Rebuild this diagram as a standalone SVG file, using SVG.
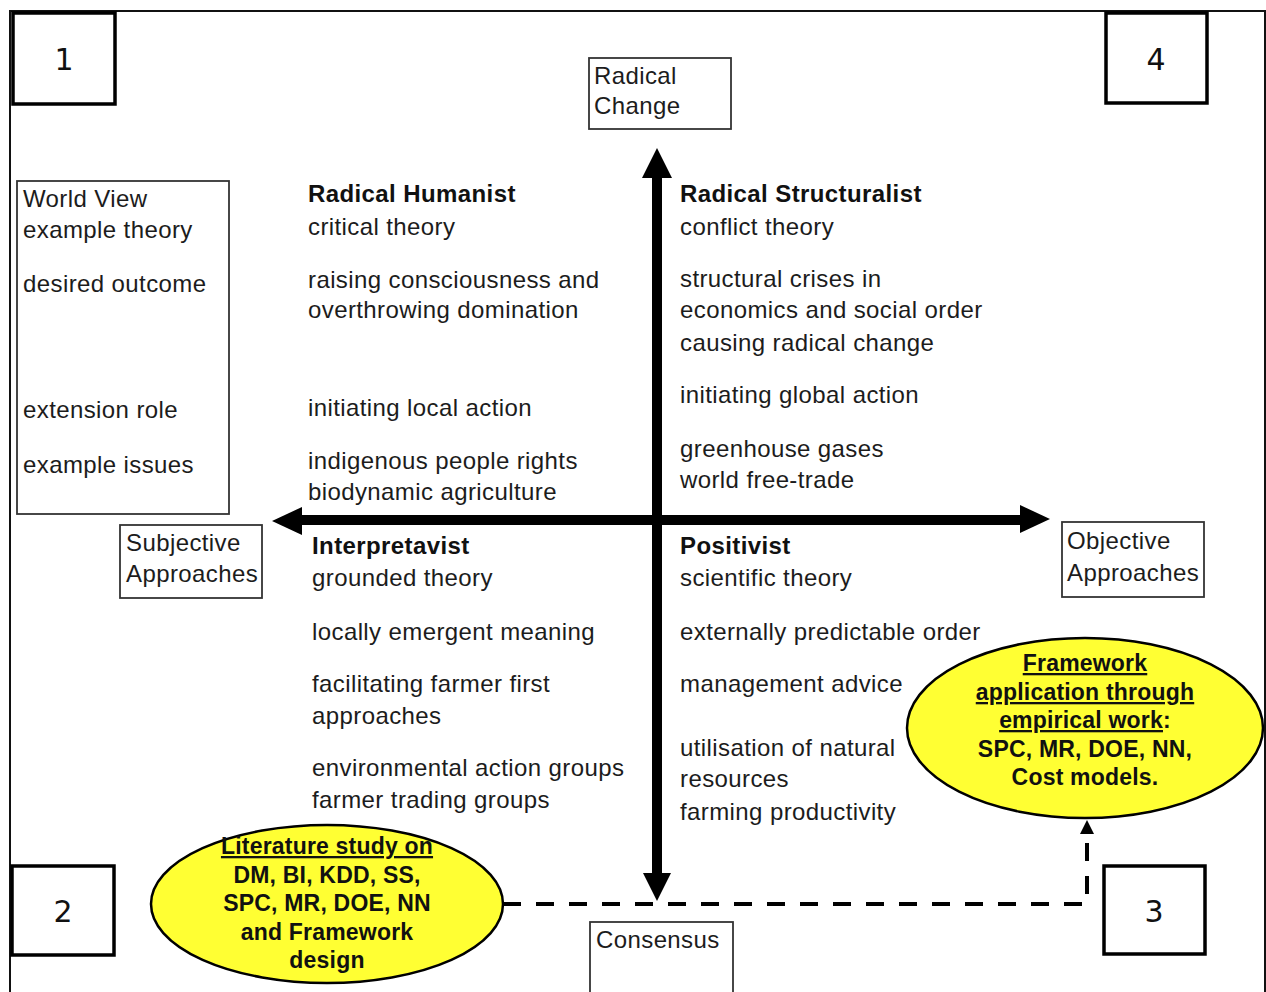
<svg xmlns="http://www.w3.org/2000/svg" width="1266" height="992" viewBox="0 0 1266 992">
  <defs>
    <style>
      .t { font-family: "Liberation Sans", Arial, sans-serif; font-size: 24px; letter-spacing: 0.4px; fill: #1c1c1c; }
      .h { font-family: "Liberation Sans", Arial, sans-serif; font-size: 24px; letter-spacing: 0.4px; font-weight: bold; fill: #111; }
      .num { font-family: "DejaVu Sans", sans-serif; font-size: 30px; fill: #111; text-anchor: middle; }
      .nbox { fill: #fff; stroke: #000; stroke-width: 3.5; }
      .lbox { fill: #fff; stroke: #333; stroke-width: 1.8; }
      .oval { fill: #ffff33; stroke: #000; stroke-width: 2.5; }
      .ov { font-family: "Liberation Sans", Arial, sans-serif; font-size: 23px; letter-spacing: 0.2px; font-weight: bold; fill: #111; text-anchor: middle; }
      .axis { fill: #000; }
      .dash { fill: none; stroke: #000; stroke-width: 4; stroke-dasharray: 18 15; }
    </style>
    <marker id="tip" viewBox="0 0 14 14" refX="1" refY="7" markerWidth="14" markerHeight="14" markerUnits="userSpaceOnUse" orient="auto">
      <path d="M0 0 L14 7 L0 14 Z" fill="#000"/>
    </marker>
  </defs>

  <rect width="1266" height="992" fill="#fff"/>

  <!-- outer frame -->
  <g id="frame" fill="none" stroke="#111" stroke-width="2">
    <path d="M10 992 V11 H1265 V992"/>
  </g>

  <!-- quadrant number boxes -->
  <g id="box1"><rect class="nbox" x="13" y="13" width="102" height="91"/><text class="num" x="64" y="70">1</text></g>
  <g id="box4"><rect class="nbox" x="1106" y="13" width="101" height="90"/><text class="num" x="1156" y="70">4</text></g>
  <g id="box2"><rect class="nbox" x="12" y="866" width="102" height="89"/><text class="num" x="63" y="922">2</text></g>
  <g id="box3"><rect class="nbox" x="1104" y="866" width="101" height="88"/><text class="num" x="1154" y="922">3</text></g>

  <!-- legend -->
  <g id="legend">
    <rect class="lbox" x="17" y="181" width="212" height="333"/>
    <text class="t" x="23" y="207">World View</text>
    <text class="t" x="23" y="238">example theory</text>
    <text class="t" x="23" y="292">desired outcome</text>
    <text class="t" x="23" y="418">extension role</text>
    <text class="t" x="23" y="473">example issues</text>
  </g>

  <!-- axes and the dashed link -->
  <g id="connectors">
    <rect class="axis" x="652" y="174" width="10" height="702"/>
    <polygon class="axis" points="657,148 672,178 642,178"/>
    <polygon class="axis" points="657,901 671,873 643,873"/>
    <rect class="axis" x="298" y="515" width="726" height="10"/>
    <polygon class="axis" points="272,521 302,507 302,535"/>
    <polygon class="axis" points="1050,519 1020,505 1020,533"/>
    <path class="dash" d="M503 904 H1087 V833" marker-end="url(#tip)"/>
  </g>

  <!-- axis labels -->
  <g id="radical-change">
    <rect class="lbox" x="589" y="58" width="142" height="71"/>
    <text class="t" x="594" y="84">Radical</text>
    <text class="t" x="594" y="114">Change</text>
  </g>
  <g id="consensus">
    <rect class="lbox" x="590" y="922" width="143" height="80"/>
    <text class="t" x="596" y="948">Consensus</text>
  </g>
  <g id="subjective">
    <rect class="lbox" x="120" y="525" width="142" height="73"/>
    <text class="t" x="126" y="551">Subjective</text>
    <text class="t" x="126" y="582">Approaches</text>
  </g>
  <g id="objective">
    <rect class="lbox" x="1062" y="522" width="142" height="75"/>
    <text class="t" x="1067" y="549">Objective</text>
    <text class="t" x="1067" y="581">Approaches</text>
  </g>

  <!-- quadrants -->
  <g id="radical-humanist">
    <text class="h" x="308" y="202">Radical Humanist</text>
    <text class="t" x="308" y="235">critical theory</text>
    <text class="t" x="308" y="288">raising consciousness and</text>
    <text class="t" x="308" y="318">overthrowing domination</text>
    <text class="t" x="308" y="416">initiating local action</text>
    <text class="t" x="308" y="469">indigenous people rights</text>
    <text class="t" x="308" y="500">biodynamic agriculture</text>
  </g>
  <g id="radical-structuralist">
    <text class="h" x="680" y="202">Radical Structuralist</text>
    <text class="t" x="680" y="235">conflict theory</text>
    <text class="t" x="680" y="287">structural crises in</text>
    <text class="t" x="680" y="318">economics and social order</text>
    <text class="t" x="680" y="351">causing radical change</text>
    <text class="t" x="680" y="403">initiating global action</text>
    <text class="t" x="680" y="457">greenhouse gases</text>
    <text class="t" x="680" y="488">world free-trade</text>
  </g>
  <g id="interpretavist">
    <text class="h" x="312" y="554">Interpretavist</text>
    <text class="t" x="312" y="586">grounded theory</text>
    <text class="t" x="312" y="640">locally emergent meaning</text>
    <text class="t" x="312" y="692">facilitating farmer first</text>
    <text class="t" x="312" y="724">approaches</text>
    <text class="t" x="312" y="776">environmental action groups</text>
    <text class="t" x="312" y="808">farmer trading groups</text>
  </g>
  <g id="positivist">
    <text class="h" x="680" y="554">Positivist</text>
    <text class="t" x="680" y="586">scientific theory</text>
    <text class="t" x="680" y="640">externally predictable order</text>
    <text class="t" x="680" y="692">management advice</text>
    <text class="t" x="680" y="756">utilisation of natural</text>
    <text class="t" x="680" y="787">resources</text>
    <text class="t" x="680" y="820">farming productivity</text>
  </g>

  <!-- research stages -->
  <g id="literature-study">
    <ellipse class="oval" cx="327" cy="904" rx="176" ry="79"/>
    <text class="ov" x="327" y="854" text-decoration="underline">Literature study on</text>
    <text class="ov" x="327" y="883">DM, BI, KDD, SS,</text>
    <text class="ov" x="327" y="911">SPC, MR, DOE, NN</text>
    <text class="ov" x="327" y="940">and Framework</text>
    <text class="ov" x="327" y="968">design</text>
  </g>
  <g id="framework-application">
    <ellipse class="oval" cx="1085" cy="728" rx="178" ry="90"/>
    <text class="ov" x="1085" y="671" text-decoration="underline">Framework</text>
    <text class="ov" x="1085" y="700" text-decoration="underline">application through</text>
    <text class="ov" x="1085" y="728"><tspan text-decoration="underline">empirical work</tspan>:</text>
    <text class="ov" x="1085" y="757">SPC, MR, DOE, NN,</text>
    <text class="ov" x="1085" y="785">Cost models.</text>
  </g>
</svg>
